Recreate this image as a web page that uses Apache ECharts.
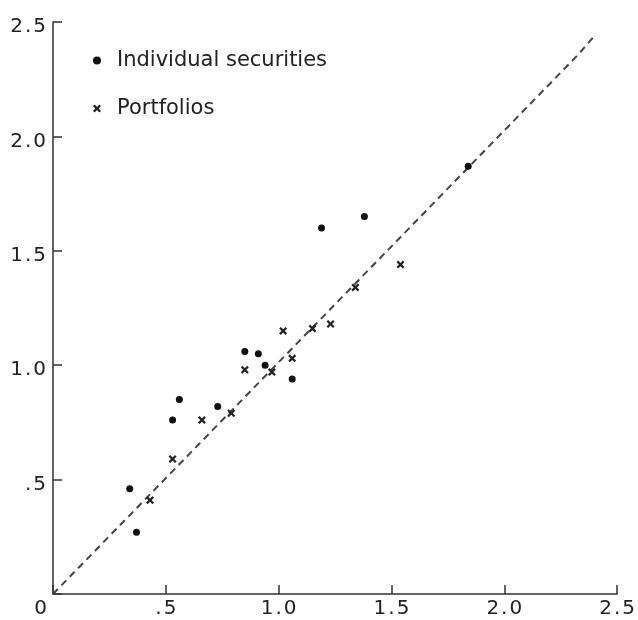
<!DOCTYPE html>
<html>
<head>
<meta charset="utf-8">
<script src="https://cdn.jsdelivr.net/npm/echarts@6/dist/echarts.min.js"></script>
<style>
  html, body { margin: 0; padding: 0; background: #fff; }
  #chart { width: 638px; height: 620px; }
</style>
</head>
<body>
<div id="chart"></div>
<script>
// values
const securities = [
  [0.34, 0.46], [0.37, 0.27], [0.53, 0.76], [0.56, 0.85], [0.73, 0.82],
  [0.85, 1.06], [0.91, 1.05], [0.94, 1.00], [1.06, 0.94], [1.19, 1.60],
  [1.38, 1.65], [1.84, 1.87]
]
const portfolios = [
  [0.43, 0.41], [0.53, 0.59], [0.66, 0.76], [0.79, 0.79], [0.85, 0.98],
  [0.97, 0.97], [1.02, 1.15], [1.06, 1.03], [1.15, 1.16], [1.23, 1.18],
  [1.34, 1.34], [1.54, 1.44]
]
const diagonal = [[0, 0], [2.33, 2.36], [2.4, 2.44]]
const xTickLabels = { 0: '0', 0.5: '.5', 1: '1.0', 1.5: '1.5', 2: '2.0', 2.5: '2.5' }
const yTickLabels = { 0: '', 0.5: '.5', 1: '1.0', 1.5: '1.5', 2: '2.0', 2.5: '2.5' }

const font = '"DejaVu Sans", sans-serif'
const ink = '#222'
const crossPath = 'path://M0,2L2,0L5,3L8,0L10,2L7,5L10,8L8,10L5,7L2,10L0,8L3,5Z'

// widen the digits a little like the printed labels
function spaced(s) {
  return s.split('').join('\u200A')
}

function axisCommon(labels) {
  return {
    type: 'value',
    min: 0,
    max: 2.5,
    interval: 0.5,
    splitLine: { show: false },
    axisLine: { show: true, onZero: false, lineStyle: { color: '#333', width: 1.5 } },
    axisTick: { show: true, inside: true, length: 9, lineStyle: { color: '#333', width: 1.5 } },
    axisLabel: {
      color: ink,
      fontFamily: font,
      fontSize: 20,
      formatter: v => spaced(labels[Math.round(v * 10) / 10] || '')
    }
  }
}

const chart = echarts.init(document.getElementById('chart'))
const xAxis = axisCommon(xTickLabels)
xAxis.axisLabel.margin = 5
xAxis.axisLabel.alignMinLabel = 'right'
// the "0" sits left of the corner
xAxis.axisLabel.formatter = v => {
  const s = xTickLabels[Math.round(v * 10) / 10] || ''
  return v === 0 ? '{z|' + s + '}' : spaced(s)
}
xAxis.axisLabel.rich = {
  z: { color: ink, fontFamily: font, fontSize: 20, padding: [0, 6, 0, 0] }
}
const yAxis = axisCommon(yTickLabels)
yAxis.axisLabel.margin = 7
// labels sit a few pixels below their ticks in the print
yAxis.axisLabel.formatter = v => {
  const s = yTickLabels[Math.round(v * 10) / 10]
  return s ? '{t|' + spaced(s) + '}' : ''
}
yAxis.axisLabel.rich = {
  t: { color: ink, fontFamily: font, fontSize: 20, padding: [10, 0, 0, 0] }
}

chart.setOption({
  animation: false,
  grid: { left: 53, right: 16, top: 22, bottom: 26 },
  xAxis,
  yAxis,
  legend: {
    orient: 'vertical',
    left: 88,
    top: 45,
    itemGap: 27,
    itemWidth: 8,
    itemHeight: 8,
    data: ['Individual securities', 'Portfolios'],
    textStyle: { color: ink, fontFamily: font, fontSize: 21, padding: [0, 0, 0, 11] }
  },
  series: [
    {
      name: 'diagonal',
      type: 'line',
      data: diagonal,
      symbol: 'none',
      lineStyle: { color: '#444', width: 2, type: [7, 5] },
      z: 1
    },
    {
      name: 'Individual securities',
      type: 'scatter',
      data: securities,
      symbol: 'circle',
      symbolSize: 7,
      itemStyle: { color: '#111', opacity: 1 },
      z: 3
    },
    {
      name: 'Portfolios',
      type: 'scatter',
      data: portfolios,
      symbol: crossPath,
      symbolSize: 8,
      itemStyle: { color: '#222', opacity: 1 },
      z: 3
    }
  ]
})
</script>
</body>
</html>
